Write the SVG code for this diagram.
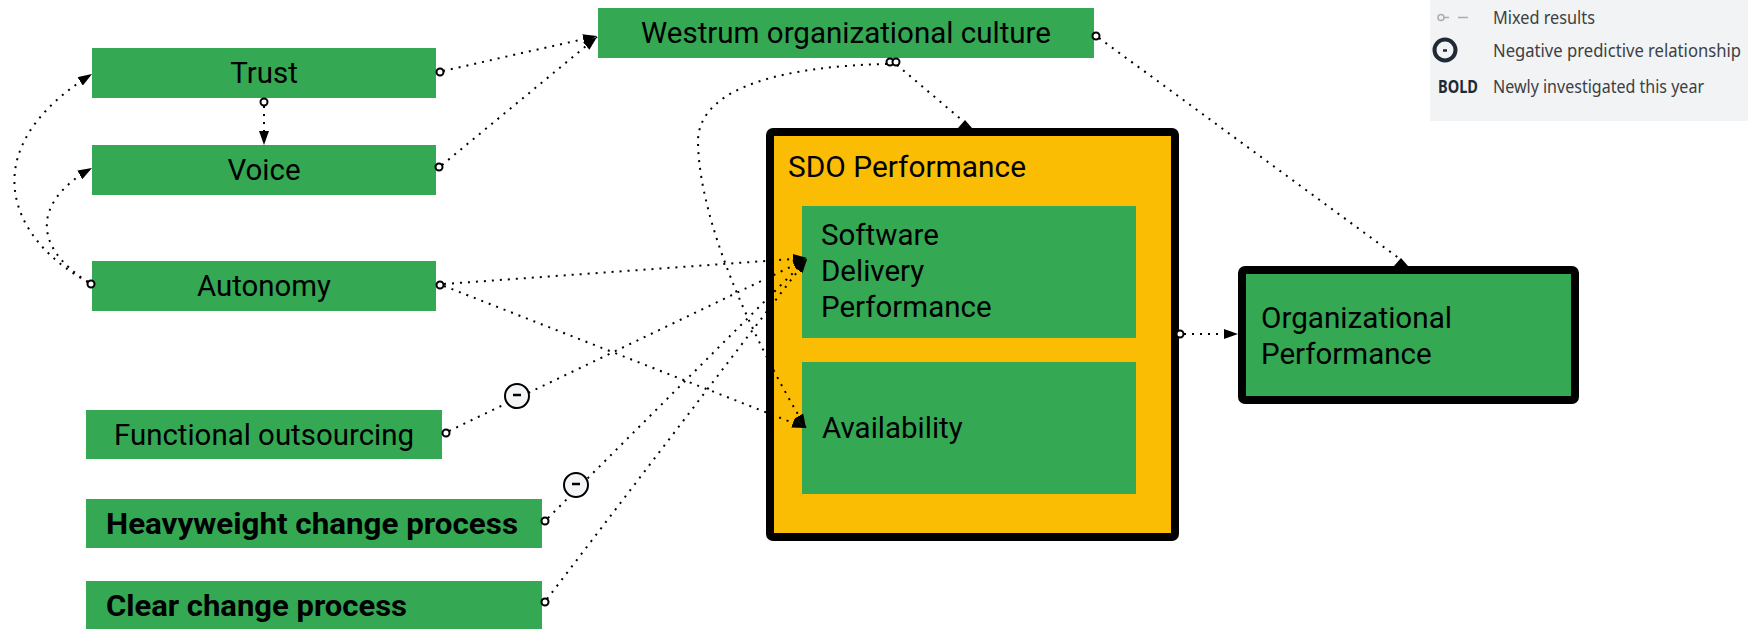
<svg xmlns="http://www.w3.org/2000/svg" width="1748" height="629" viewBox="0 0 1748 629">
  <style>
    .node { fill: #34a853; }
    .label { font-family: Roboto, "Noto Sans", "Liberation Sans", sans-serif; font-size: 29.5px; fill: #000; }
    .bold { font-weight: bold; }
    .mid { text-anchor: middle; }
    .framed { stroke: #000; stroke-width: 8; }
    .link { fill: none; stroke: #000; stroke-width: 2; stroke-dasharray: 2 6; }
    .arrow { marker-end: url(#head); }
    .port { fill: #fff; stroke: #000; stroke-width: 2; }
    .neg circle { fill: #f4f5f7; stroke: #000; stroke-width: 2; }
    .neg line { stroke: #000; stroke-width: 2.5; }
    .legend text { font-family: "Noto Sans", Lato, "Liberation Sans", sans-serif; font-size: 18px; fill: #3c4043; }
  </style>
  <defs>
    <marker id="head" markerUnits="userSpaceOnUse" markerWidth="14" markerHeight="10" refX="14" refY="5" orient="auto">
      <path d="M0,0 L14,5 L0,10 z" fill="#000"/>
    </marker>
  </defs>

  <!-- legend -->
  <g id="legend" class="legend">
    <rect x="1430" y="0" width="318" height="121" fill="#f1f3f4"/>
    <circle cx="1441" cy="17.5" r="3" fill="none" stroke="#b3a9a9" stroke-width="1.5"/>
    <line x1="1444" y1="17.5" x2="1449" y2="17.5" stroke="#b3a9a9" stroke-width="1.5"/>
    <line x1="1458" y1="17.5" x2="1468" y2="17.5" stroke="#b3a9a9" stroke-width="1.5"/>
    <text x="1493" y="24" textLength="102" lengthAdjust="spacingAndGlyphs">Mixed results</text>
    <circle cx="1445" cy="50" r="10.5" fill="none" stroke="#202a36" stroke-width="4"/>
    <line x1="1443" y1="50.5" x2="1447" y2="50.5" stroke="#202a36" stroke-width="2.5"/>
    <text x="1493" y="57" textLength="248" lengthAdjust="spacingAndGlyphs">Negative predictive relationship</text>
    <text x="1438" y="93" font-weight="bold" style="fill:#202a36" textLength="40" lengthAdjust="spacingAndGlyphs">BOLD</text>
    <text x="1493" y="93" textLength="211" lengthAdjust="spacingAndGlyphs">Newly investigated this year</text>
  </g>

  <!-- culture and team nodes -->
  <g id="trust">
    <rect class="node" x="92" y="48" width="344" height="50"/>
    <text class="label mid" x="264" y="83">Trust</text>
  </g>
  <g id="voice">
    <rect class="node" x="92" y="145" width="344" height="50"/>
    <text class="label mid" x="264" y="180">Voice</text>
  </g>
  <g id="autonomy">
    <rect class="node" x="92" y="261" width="344" height="50"/>
    <text class="label mid" x="264" y="296" textLength="134" lengthAdjust="spacingAndGlyphs">Autonomy</text>
  </g>
  <g id="westrum">
    <rect class="node" x="598" y="8" width="496" height="50"/>
    <text class="label mid" x="846" y="43" textLength="410" lengthAdjust="spacingAndGlyphs">Westrum organizational culture</text>
  </g>
  <g id="outsourcing">
    <rect class="node" x="86" y="410" width="356" height="49"/>
    <text class="label mid" x="264" y="445" textLength="300" lengthAdjust="spacingAndGlyphs">Functional outsourcing</text>
  </g>
  <g id="heavyweight">
    <rect class="node" x="86" y="499" width="456" height="49"/>
    <text class="label bold" x="106" y="534" textLength="412" lengthAdjust="spacingAndGlyphs">Heavyweight change process</text>
  </g>
  <g id="clear">
    <rect class="node" x="86" y="581" width="456" height="50"/>
    <text class="label bold" x="106" y="616" textLength="301" lengthAdjust="spacingAndGlyphs">Clear change process</text>
  </g>

  <!-- SDO performance container -->
  <g id="sdo">
    <rect x="770" y="132" width="405" height="405" rx="3" fill="#fbbc04" class="framed"/>
    <text class="label" x="788" y="177" textLength="238" lengthAdjust="spacingAndGlyphs">SDO Performance</text>
  </g>
  <g id="delivery">
    <rect class="node" x="802" y="206" width="334" height="132"/>
    <text class="label" x="821" y="245">Software</text>
    <text class="label" x="821" y="281">Delivery</text>
    <text class="label" x="821" y="317">Performance</text>
  </g>
  <g id="availability">
    <rect class="node" x="802" y="362" width="334" height="132"/>
    <text class="label" x="822" y="438">Availability</text>
  </g>
  <g id="orgperf">
    <rect x="1242" y="270" width="333" height="130" rx="3" class="node framed"/>
    <text class="label" x="1261" y="328" textLength="191" lengthAdjust="spacingAndGlyphs">Organizational</text>
    <text class="label" x="1261" y="364">Performance</text>
  </g>

  <!-- connectors -->
  <g id="connectors">
    <path class="link arrow" d="M443,71 L597,36"/>
    <path class="link arrow" d="M442,165 L597,37"/>
    <path class="link arrow" d="M264,106 L264,145"/>
    <path class="link arrow" d="M88,282 C10,240 -30,150 92,74"/>
    <path class="link arrow" d="M88,282 C30,245 35,200 92,168"/>
    <path class="link arrow" d="M444,284 L807,258"/>
    <path class="link arrow" d="M444,286 L806,428"/>
    <path class="link arrow" d="M449,431 L807,259"/>
    <path class="link arrow" d="M548,518 L807,259"/>
    <path class="link arrow" d="M547,599 L807,259"/>
    <path class="link arrow" d="M887,64 C790,66 700,85 698,140 C698,200 730,300 806,428"/>
    <path class="link" d="M897,65 L963,121"/>
    <polygon points="958,128 972,128 965,120" fill="#000"/>
    <path class="link" d="M1099,38 L1400,259"/>
    <polygon points="1394,266 1408,266 1401,258" fill="#000"/>
    <path class="link arrow" d="M1184,334 L1238,334"/>

    <circle class="port" cx="440" cy="72" r="3.5"/>
    <circle class="port" cx="264" cy="102" r="3.5"/>
    <circle class="port" cx="439" cy="167" r="3.5"/>
    <circle class="port" cx="91" cy="284" r="3.5"/>
    <circle class="port" cx="440" cy="285" r="3.5"/>
    <circle class="port" cx="1096" cy="36" r="3.5"/>
    <circle class="port" cx="890" cy="62" r="3.5"/>
    <circle class="port" cx="896" cy="62" r="3.5"/>
    <circle class="port" cx="1180" cy="334" r="3.5"/>
    <circle class="port" cx="446" cy="433" r="3.5"/>
    <circle class="port" cx="545" cy="521" r="3.5"/>
    <circle class="port" cx="545" cy="602" r="3.5"/>

    <g class="neg">
      <circle cx="517" cy="396" r="12"/>
      <line x1="513" y1="395" x2="521" y2="395"/>
    </g>
    <g class="neg">
      <circle cx="576" cy="485" r="12"/>
      <line x1="572" y1="484" x2="580" y2="484"/>
    </g>
  </g>
</svg>
